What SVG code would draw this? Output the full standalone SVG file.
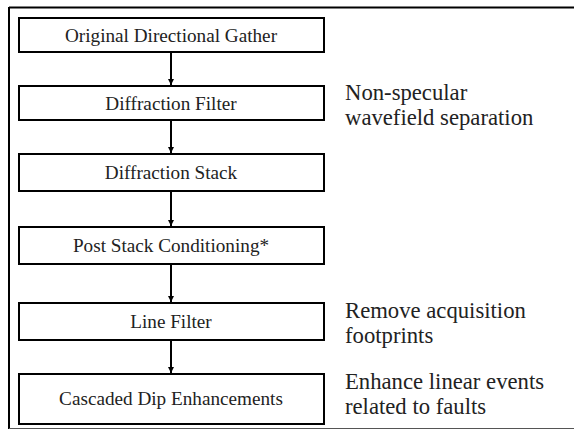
<svg xmlns="http://www.w3.org/2000/svg" width="574" height="431" viewBox="0 0 574 431">
<defs>
<style>
.box{fill:#fff;stroke:#000;stroke-width:2}
.bt{font-family:"Liberation Serif","Times New Roman",serif;font-size:19.2px;fill:#222;text-anchor:middle}
.nt{font-family:"Liberation Serif","Times New Roman",serif;font-size:22.7px;fill:#222}
.conn{stroke:#000;stroke-width:2;fill:none;marker-end:url(#ah)}
</style>
<marker id="ah" markerWidth="8" markerHeight="8" refX="6" refY="4" orient="auto" markerUnits="userSpaceOnUse">
<path d="M0,1 L6,4 L0,7 z" fill="#000"/>
</marker>
</defs>
<rect width="574" height="431" fill="#fff"/>
<g id="frame">
<line x1="9" y1="7.5" x2="574" y2="7.5" stroke="#000" stroke-width="2"/>
<line x1="9" y1="7" x2="9" y2="429" stroke="#000" stroke-width="2"/>
<line x1="9" y1="428.5" x2="574" y2="428.5" stroke="#555" stroke-width="1"/>
</g>
<g id="connectors">
<line class="conn" x1="171" y1="52" x2="171" y2="85"/>
<line class="conn" x1="171" y1="120" x2="171" y2="153"/>
<line class="conn" x1="171" y1="191" x2="171" y2="226"/>
<line class="conn" x1="171" y1="264" x2="171" y2="302"/>
<line class="conn" x1="171" y1="340" x2="171" y2="373"/>
</g>
<g id="n1"><rect class="box" x="19" y="18" width="305" height="34"/><text class="bt" x="171" y="42">Original Directional Gather</text></g>
<g id="n2"><rect class="box" x="19" y="86" width="305" height="34"/><text class="bt" x="171" y="110">Diffraction Filter</text></g>
<g id="n3"><rect class="box" x="19" y="154" width="305" height="37"/><text class="bt" x="171" y="179">Diffraction Stack</text></g>
<g id="n4"><rect class="box" x="19" y="227" width="305" height="37"/><text class="bt" x="171" y="252">Post Stack Conditioning*</text></g>
<g id="n5"><rect class="box" x="19" y="303" width="305" height="37"/><text class="bt" x="171" y="328">Line Filter</text></g>
<g id="n6"><rect class="box" x="19" y="374" width="305" height="50"/><text class="bt" x="171" y="405">Cascaded Dip Enhancements</text></g>
<g id="notes">
<text class="nt" x="345" y="100">Non-specular</text>
<text class="nt" x="345" y="125">wavefield separation</text>
<text class="nt" x="345" y="318">Remove acquisition</text>
<text class="nt" x="345" y="343">footprints</text>
<text class="nt" x="345" y="389">Enhance linear events</text>
<text class="nt" x="345" y="414">related to faults</text>
</g>
</svg>
